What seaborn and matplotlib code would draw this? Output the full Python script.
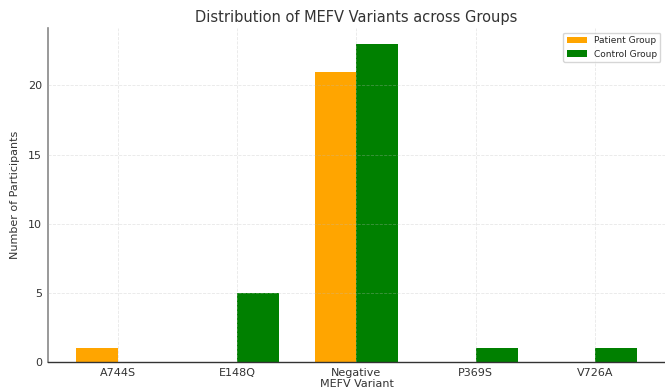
import numpy as np
import pandas as pd
import matplotlib
matplotlib.use("Agg")
import matplotlib.pyplot as plt
import seaborn as sns

variants = ["A744S", "E148Q", "Negative", "P369S", "V726A"]
patient = [1, 0, 21, 0, 0]
control = [0, 5, 23, 1, 1]
groups = ["Patient Group", "Control Group"]

df = pd.DataFrame({
    "variant": variants * 2,
    "count": patient + control,
    "group": [groups[0]] * len(variants) + [groups[1]] * len(variants),
})

sns.set_style("whitegrid", {"grid.linestyle": "--", "grid.color": "#e6e6e6"})

fig = plt.figure(figsize=(6.65, 3.89), dpi=100)
ax = fig.add_axes([0.072, 0.069, 0.928, 0.859])

sns.barplot(data=df, x="variant", y="count", hue="group", width=0.7,
            palette={"Patient Group": "#FFA500", "Control Group": "#008000"},
            saturation=1, linewidth=0, ax=ax)

ax.set_xlim(-0.585, 4.585)
ax.set_ylim(0, 24.15)
ax.set_yticks([0, 5, 10, 15, 20])
ax.set_title("Distribution of MEFV Variants across Groups", fontsize=10.5, color="#333333", pad=4)
ax.set_xlabel("MEFV Variant", fontsize=8, color="#333333", labelpad=1)
ax.set_ylabel("Number of Participants", fontsize=8, color="#333333", labelpad=6)
ax.tick_params(labelsize=8, colors="#333333", length=0, pad=4)
ax.grid(True, axis="both", linestyle="--", linewidth=0.6, color="#bbbbbb", alpha=0.35)
ax.set_axisbelow(False)
sns.despine(ax=ax, top=True, right=True)
ax.spines["left"].set_color("#888888")
ax.spines["left"].set_linewidth(1.2)
ax.spines["bottom"].set_color("#333333")
ax.spines["bottom"].set_linewidth(1.0)
ax.legend(loc="upper right", fontsize=6.5, frameon=True, handlelength=2.2)

fig.savefig("out.png", dpi=100)
